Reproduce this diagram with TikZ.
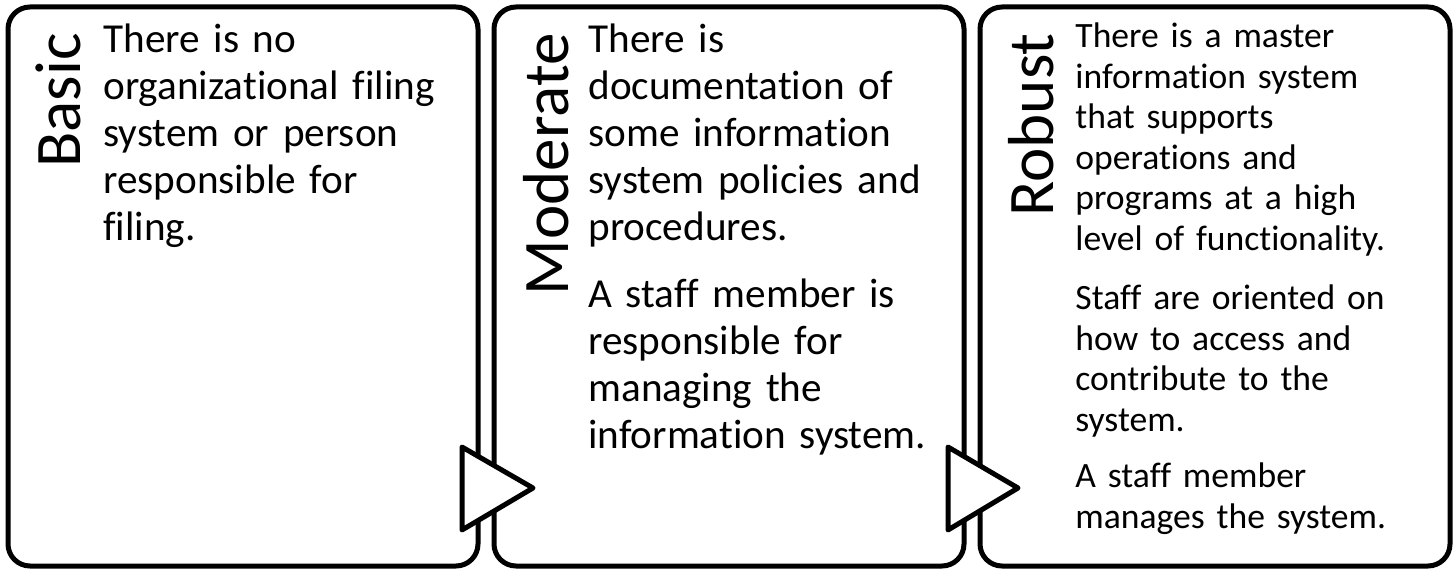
\documentclass[tikz,border=0pt]{standalone}
\usepackage{fontspec}
\setmainfont{Carlito}[Ligatures=CommonOff,RawFeature={-liga;-clig}]
\usetikzlibrary{positioning}

\begin{document}
\begin{tikzpicture}[x=0.5pt,y=-0.5pt,
        stagebox/.style={draw,line width=2.5pt,fill=white,rounded corners=11pt,inner sep=0pt,outer sep=0pt,minimum width=235pt,minimum height=279.5pt},
        chevron/.style={draw,line width=2.5pt,fill=white,line join=round},
        levelname/.style={rotate=90,anchor=base east,inner sep=0pt,font=\fontsize{32.5pt}{37pt}\selectfont},
        bigtext/.style={anchor=base west,align=left,inner sep=0pt,text width=190pt,font=\fontsize{20.6pt}{23.5pt}\selectfont},
        smalltext/.style={anchor=base west,align=left,inner sep=0pt,text width=190pt,font=\fontsize{17.8pt}{20.25pt}\selectfont}]
    \useasboundingbox (0,0) rectangle (1456,571);
    %% the three stages
    \node[stagebox,anchor=north west] (basic) at (8,7) {};
    \node[stagebox,right=8pt of basic] (moderate) {};
    \node[stagebox,right=8pt of moderate] (robust) {};
    %% arrows between stages
    \foreach \x/\w in {462/71,948/70}
        \draw[chevron] (\x,447) -- ++(\w,41) -- (\x,530) -- cycle;
    %% stage names
    \node[levelname] (basicname) at (80,33) {Basic};
    \node[levelname] (moderatename) at (568,33) {Moderate};
    \node[levelname] (robustname) at (1053,33) {Robust};
    %% descriptions
    \node[bigtext] (basictext) at (103,53) {There is no\\
        organizational filing\\ system or person\\ responsible for\\ filing.};
    \node[bigtext] (moderatetext) at (588,53) {There is\\ documentation of\\
        some information\\ system policies and\\ procedures.\\[10pt]
        A staff member is\\ responsible for\\ managing the\\ information system.};
    \node[smalltext] (robusttext) at (1075,48) {There is a master\\
        information system\\ that supports\\ operations and\\
        programs at a high\\ level of functionality.\\[9.5pt]
        Staff are oriented on\\ how to access and\\ contribute to the\\ system.\\[8pt]
        A staff member\\ manages the system.};
\end{tikzpicture}
\end{document}
